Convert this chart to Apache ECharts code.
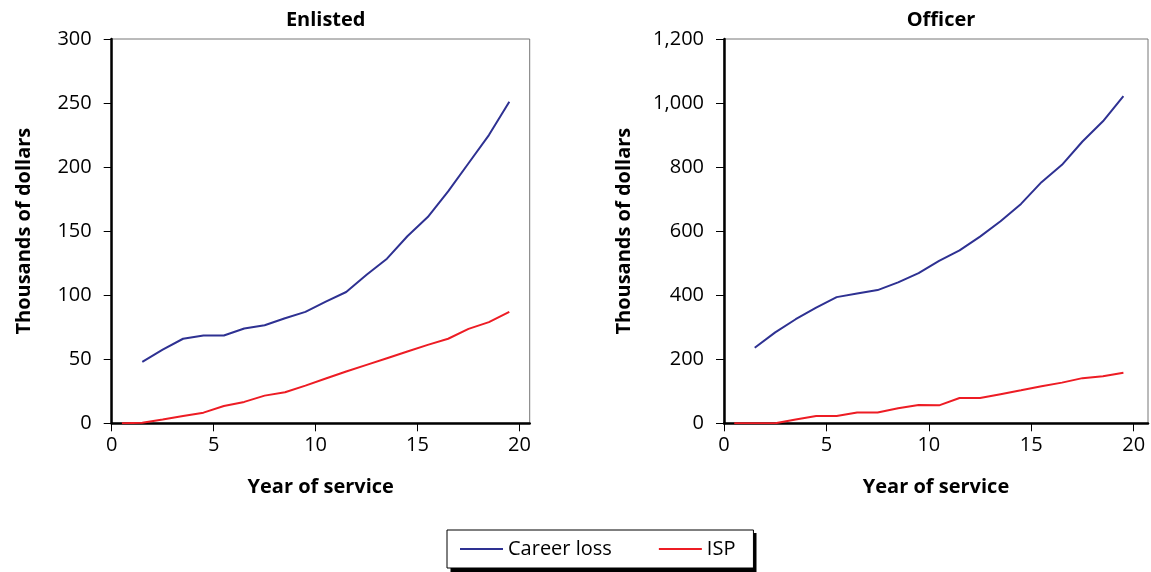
<!DOCTYPE html>
<html><head><meta charset="utf-8">
<script src="https://cdn.jsdelivr.net/npm/echarts@6/dist/echarts.min.js"></script>
<style>html,body{margin:0;padding:0;background:#fff}#c{width:1151px;height:572px}</style>
</head><body><div id="c"></div>
<script>
// Data
const yearsISP  = [0.5,1.5,2.5,3.5,4.5,5.5,6.5,7.5,8.5,9.5,10.5,11.5,12.5,13.5,14.5,15.5,16.5,17.5,18.5,19.5];
const yearsLoss = [1.5,2.5,3.5,4.5,5.5,6.5,7.5,8.5,9.5,10.5,11.5,12.5,13.5,14.5,15.5,16.5,17.5,18.5,19.5];
const enlistedLoss = [48,57.5,66,68.5,68.5,74,76.5,82,87,95,102.5,116,128.5,146,161,181,203,225,251];
const enlistedISP  = [0,0.5,3,5.7,8.3,13.5,16.7,21.6,24.2,29.4,35,40.4,45.6,50.8,56,61.2,66,73.7,79,87];
const officerLoss  = [236,284,325,361,394,405,416,440,469,507,540,583,631,685,753,807,880,943,1022];
const officerISP   = [0,0,0,12,23,23,34,34,47,57,56,79,79,91,103,116,127,141,147,158];
const xTicks = [0,5,10,15,20];
const panelTitles = ['Enlisted','Officer'];
const seriesNames = ['Career loss','ISP'];

const FONT = '"Open Sans", "Noto Sans", sans-serif';
const FS = 20;
const BLUE = '#2e3192', RED = '#ed1c24';
const pair = (xs, ys) => xs.map((x,i)=>[x, ys[i]]);

const chart = echarts.init(document.getElementById('c'));
const grids = [
  {left:111.7, top:39, width:418, height:384.3},
  {left:724, top:39, width:424, height:384.3}
];
function xAxis(idx, max){
  return {type:'value', gridIndex:idx, min:0, max:max, interval:5,
    name:'Year of service', nameLocation:'middle', nameGap:54,
    nameTextStyle:{fontFamily:FONT, fontSize:FS, fontWeight:'bold', color:'#000'},
    axisLine:{show:true, onZero:false, lineStyle:{color:'#000', width:2.5}},
    axisTick:{show:true, length:8, customValues:xTicks, lineStyle:{color:'#000', width:1}},
    axisLabel:{customValues:xTicks, margin:12, fontFamily:FONT, fontSize:FS, color:'#000'},
    splitLine:{show:false}};
}
function yAxis(idx, max, interval, gap){
  return {type:'value', gridIndex:idx, min:0, max:max, interval:interval,
    name:'Thousands of dollars', nameLocation:'middle', nameGap:gap,
    nameTextStyle:{fontFamily:FONT, fontSize:FS, fontWeight:'bold', color:'#000'},
    axisLine:{show:true, lineStyle:{color:'#000', width:2.5}},
    axisTick:{show:true, length:8, lineStyle:{color:'#000', width:1}},
    axisLabel:{margin:20, fontFamily:FONT, fontSize:FS, color:'#000',
      formatter: v => v.toLocaleString('en-US')},
    splitLine:{show:false}};
}
function line(name, idx, data, color){
  return {type:'line', name:name, xAxisIndex:idx, yAxisIndex:idx, data:data,
    symbol:'none', showSymbol:false, lineStyle:{color:color, width:2}, itemStyle:{color:color}};
}
chart.setOption({
  animation:false,
  title: panelTitles.map((t,i)=>({text:t, left: grids[i].left + grids[i].width/2, top:5, textAlign:'center',
    textStyle:{fontFamily:FONT, fontSize:FS, fontWeight:'bold', color:'#000'}})),
  grid: grids.map(g=>Object.assign({show:true, borderColor:'#777', borderWidth:1, backgroundColor:'transparent'}, g)),
  xAxis:[xAxis(0,20.5), xAxis(1,20.7)],
  yAxis:[yAxis(0,300,50,77), yAxis(1,1200,200,90)],
  graphic:[{type:'rect', z:0, silent:true, shape:{x:450.5, y:533, width:306, height:40},
    style:{fill:'#000'}}],
  legend:{data:seriesNames, left:447, top:530, orient:'horizontal', z:10,
    icon:'rect', itemWidth:43, itemHeight:2, itemGap:47,
    padding:[9,18,9,13], borderColor:'#000', borderWidth:1, backgroundColor:'#fff',
    textStyle:{fontFamily:FONT, fontSize:FS, color:'#000'}},
  series:[
    line(seriesNames[0],0,pair(yearsLoss,enlistedLoss),BLUE),
    line(seriesNames[1],0,pair(yearsISP,enlistedISP),RED),
    line(seriesNames[0],1,pair(yearsLoss,officerLoss),BLUE),
    line(seriesNames[1],1,pair(yearsISP,officerISP),RED)
  ]
});
</script></body></html>
